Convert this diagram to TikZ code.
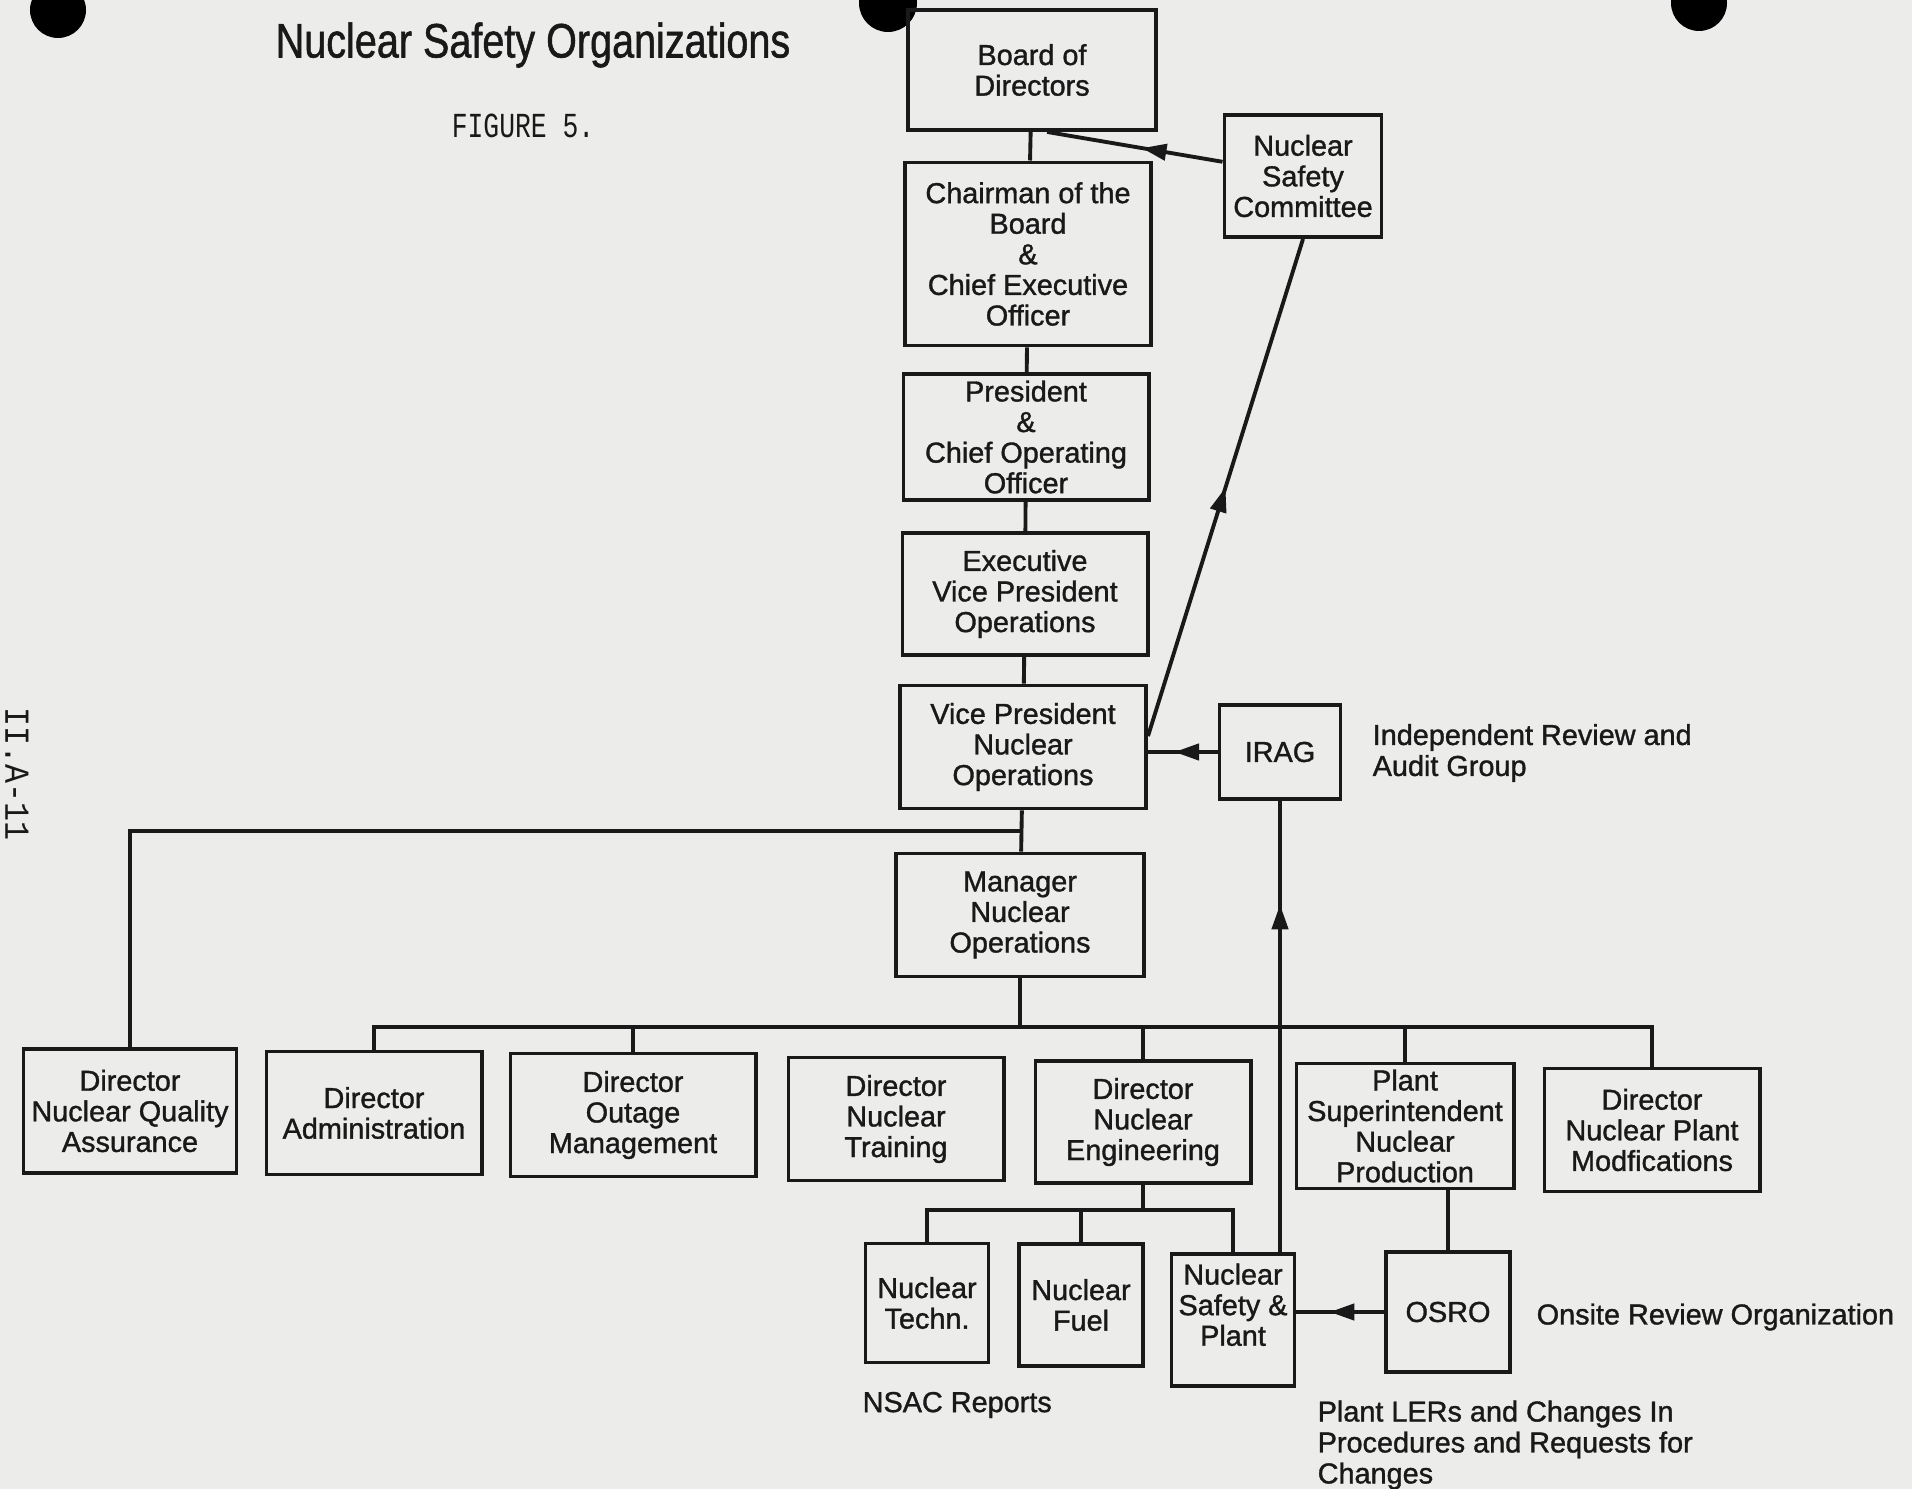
\documentclass[tikz,border=0pt]{standalone}
\usepackage{fontspec}
\setmainfont{Liberation Sans}[FakeBold=1]
\newfontfamily\boxfont{Liberation Sans}[FakeBold=1.2]
\newfontfamily\typewr{Liberation Mono}
\usetikzlibrary{arrows.meta,calc,decorations.markings}
\definecolor{paper}{RGB}{236,236,235}
\definecolor{ink}{RGB}{25,25,25}

\begin{document}
\begin{tikzpicture}[x=0.01cm,y=-0.01cm,
  box/.style 2 args={draw=ink, line width=1.1pt, minimum width=#1cm, minimum height=#2cm,
    inner sep=0pt, align=center, text=ink, font=\boxfont\fontsize{8.2}{8.7}\selectfont},
  lbl/.style={align=left, inner sep=0pt, text=ink, font=\boxfont\fontsize{8.2}{8.8}\selectfont},
  conn/.style={draw=ink, line width=1.1pt},
  midarrow/.style={postaction={decorate}, decoration={markings,
    mark=at position #1 with {\arrow{Triangle[length=7pt,width=4.6pt]}}}}]

\useasboundingbox (0,0) rectangle (1912,1489);
\fill[paper] (0,0) rectangle (1912,1489);
\fill[black] (58,10) circle (28);
\fill[black] (888,3) circle (29);
\fill[black] (1699,3) circle (28);

\node[text=ink] (title) at (533,45) {\scalebox{0.9}[1.1]{\boxfont\fontsize{12.5}{14}\selectfont Nuclear Safety Organizations}};
\node[text=ink] (fig) at (523,126) {\scalebox{0.75}[1]{\typewr\fontsize{10}{12}\selectfont FIGURE 5.}};
\node[text=ink, rotate=-90] (pagenum) at (17,774) {\scalebox{0.9}[1]{\typewr\fontsize{10}{12}\selectfont II.A-11}};

\node[box={2.48}{1.20}] (board) at (1032,70) {Board of\\Directors};
\node[box={2.46}{1.83}] (chair) at (1028,254) {Chairman of the\\Board\\\&\\Chief Executive\\Officer};
\node[box={2.45}{1.26}] (pres) at (1026,437) {President\\\&\\Chief Operating\\Officer};
\node[box={2.45}{1.22}] (evp) at (1025,594) {Executive\\Vice President\\Operations};
\node[box={2.46}{1.23}] (vp) at (1023,747) {Vice President\\Nuclear\\Operations};
\node[box={2.48}{1.23}] (mgr) at (1020,915) {Manager\\Nuclear\\Operations};
\node[box={1.57}{1.22}] (nsc) at (1303,176) {Nuclear\\Safety\\Committee};
\node[box={1.21}{0.94}] (irag) at (1280,752) {IRAG};

\node[box={2.13}{1.24}] (dqa) at (130,1111) {Director\\Nuclear Quality\\Assurance};
\node[box={2.15}{1.23}] (dadm) at (374,1113) {Director\\Administration};
\node[box={2.45}{1.23}] (dout) at (633,1115) {Director\\Outage\\Management};
\node[box={2.15}{1.23}] (dtrn) at (896,1119) {Director\\Nuclear\\Training};
\node[box={2.15}{1.22}] (deng) at (1143,1122) {Director\\Nuclear\\Engineering};
\node[box={2.17}{1.25}] (psup) at (1405,1126) {Plant\\Superintendent\\Nuclear\\Production};
\node[box={2.15}{1.23}] (dmod) at (1652,1130) {Director\\Nuclear Plant\\Modfications};

\node[box={1.23}{1.19}] (ntec) at (927,1303) {Nuclear\\Techn.};
\node[box={1.24}{1.22}] (nfue) at (1081,1305) {Nuclear\\Fuel};
\node[box={1.23}{1.32}] (nspa) at (1233,1320) {Nuclear\\Safety \&\\Plant\\\mbox{}};
\node[box={1.24}{1.20}] (osro) at (1448,1312) {OSRO};

\node[lbl, anchor=west] (iragtxt) at (1372,753) {Independent Review and\\Audit Group};
\node[lbl, anchor=west] (osrotxt) at (1536,1317) {Onsite Review Organization};
\node[lbl, anchor=west] (nsac) at (862,1405) {NSAC Reports};
\node[lbl, anchor=west] (lers) at (1317,1445) {Plant LERs and Changes In\\Procedures and Requests for\\Changes};

\coordinate (bus) at (0,1027);
\coordinate (sbus) at (0,1210);

\draw[conn] (board) -- (chair) -- (pres) -- (evp) -- (vp) -- (mgr);
\draw[conn] (dqa.north) |- ($(vp.south)!0.5!(mgr.north)$);
\draw[conn] (mgr.south) -- (mgr.south |- bus);
\draw[conn] (dadm.north) |- (dmod.north |- bus) -- (dmod.north);
\foreach \n in {dout,deng,psup}
  \draw[conn] (\n.north) -- (\n.north |- bus);
\draw[conn] (deng.south) -- (deng.south |- sbus);
\draw[conn] (ntec.north) |- (nspa.north |- sbus) -- (nspa.north);
\draw[conn] (nfue.north) -- (nfue.north |- sbus);
\draw[conn] (psup.south -| osro.north) -- (osro.north);

\draw[conn, midarrow=0.46] (nsc.170) -- ($(board.south)!0.12!(board.south east)$);
\draw[conn, midarrow=0.5] (vp.5) -- (nsc.south);
\draw[conn, midarrow=0.62] (irag.west) -- (irag.west -| vp.east);
\draw[conn, midarrow=0.77] (nspa.north -| irag.south) -- (irag.south);
\draw[conn, midarrow=0.62] (osro.west) -- (osro.west -| nspa.east);
\end{tikzpicture}
\end{document}
